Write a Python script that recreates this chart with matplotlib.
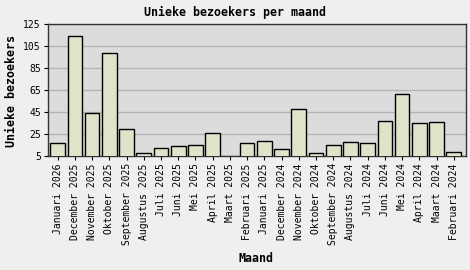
import matplotlib
matplotlib.use('Agg')
import matplotlib.pyplot as plt
import numpy as np

# months, newest first, as on the reference
maanden = ['Januari 2026', 'December 2025', 'November 2025', 'Oktober 2025',
           'September 2025', 'Augustus 2025', 'Juli 2025', 'Juni 2025',
           'Mei 2025', 'April 2025', 'Maart 2025', 'Februari 2025',
           'Januari 2025', 'December 2024', 'November 2024', 'Oktober 2024',
           'September 2024', 'Augustus 2024', 'Juli 2024', 'Juni 2024',
           'Mei 2024', 'April 2024', 'Maart 2024', 'Februari 2024']
bezoekers = [17, 114, 44, 99, 30, 8, 13, 14, 15, 26, 4, 17,
             19, 12, 48, 8, 15, 18, 17, 37, 62, 35, 36, 9]
y_ticks = [5, 25, 45, 65, 85, 105, 125]

mono = 'DejaVu Sans Mono'

fig = plt.figure(figsize=(4.70, 2.70), dpi=100, facecolor='#efefef')
ax = fig.add_axes([47.7 / 470, 1 - 156.3 / 270, 418 / 470, 132 / 270])
ax.set_facecolor('#dcdcdc')

x = np.arange(len(maanden))
ax.bar(x, bezoekers, width=0.85, color='#dfe3c9', edgecolor='black',
       linewidth=1.0, zorder=3)

ax.set_ylim(5, 125)
ax.set_yticks(y_ticks)
ax.set_xlim(-0.58, len(maanden) - 1 + 0.69)
ax.set_xticks(x)
ax.set_xticklabels(maanden, rotation=90, family=mono, fontsize=7)
ax.set_yticklabels([str(v) for v in y_ticks], family=mono, fontsize=7)
ax.tick_params(axis='both', length=3, width=0.8, colors='black', pad=2)
ax.yaxis.grid(True, color='#b4b4b4', linewidth=1.0, zorder=0)
for s in ax.spines.values():
    s.set_color('#333333')
    s.set_linewidth(1.0)

fig.text(0.5, 1 - 12 / 270, 'Unieke bezoekers per maand', ha='center',
         va='center', family=mono, weight='bold', fontsize=8.4)
fig.text(12 / 470, 1 - 91 / 270, 'Unieke bezoekers', ha='center', va='center',
         rotation=90, family=mono, weight='bold', fontsize=8.4)
fig.text(256 / 470, 1 - 259 / 270, 'Maand', ha='center', va='center',
         family=mono, weight='bold', fontsize=8.4)

fig.savefig('out.png', dpi=100, facecolor=fig.get_facecolor())
